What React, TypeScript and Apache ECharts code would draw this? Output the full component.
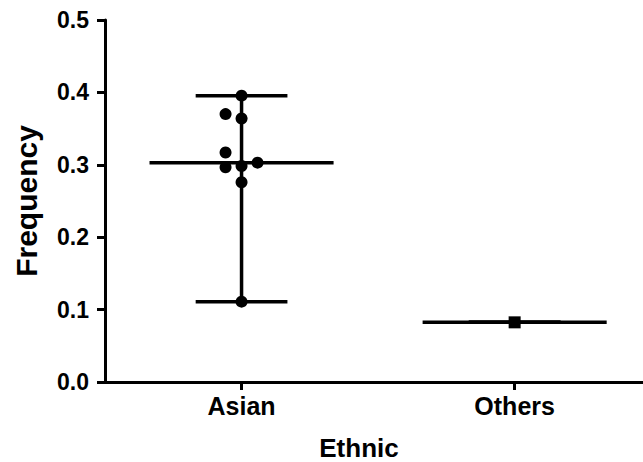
import React, { useEffect, useRef } from "react";
import * as echarts from "echarts";

const categories = ["Asian", "Others"];
const categoryPositions = [1, 2];
const asianValues = [0.3955, 0.37, 0.364, 0.317, 0.2966, 0.2983, 0.303, 0.2758, 0.111];
const asianJitter = [0, -16, 0, -16, -16, 0, 16, 0, 0];
const othersValues = [0.0824];
const yTicks = [0, 0.1, 0.2, 0.3, 0.4, 0.5];

const FONT = "'Liberation Sans', Arial, Helvetica, sans-serif";

function median(a: number[]) {
  const s = [...a].sort((x, y) => x - y);
  const m = Math.floor(s.length / 2);
  return s.length % 2 ? s[m] : (s[m - 1] + s[m]) / 2;
}

export default function App() {
  const ref = useRef<HTMLDivElement>(null);
  useEffect(() => {
    document.body.style.margin = "0";
    document.body.style.overflow = "hidden";
    if (!ref.current) return;
    const chart = echarts.init(ref.current, undefined, { renderer: "svg" });
    const groups = [asianValues, othersValues];
    const stats = groups.map((g, i) => [categoryPositions[i], median(g), Math.min(...g), Math.max(...g)]);
    const black = "#000";
    chart.setOption({
      animation: false,
      backgroundColor: "#fff",
      grid: { left: 105, top: 20, bottom: 80, right: 0, outerBoundsMode: "none", containLabel: false },
      xAxis: {
        type: "value",
        min: 0.5,
        max: 2.47,
        name: "Ethnic",
        nameLocation: "middle",
        nameGap: 55,
        nameTextStyle: {
          fontFamily: FONT,
          fontWeight: "bold",
          fontSize: 26,
          lineHeight: 22,
          color: black,
          padding: [0, 30, 0, 0],
        },
        axisLine: { show: true, onZero: false, lineStyle: { color: black, width: 3 } },
        axisTick: {
          show: true,
          customValues: categoryPositions,
          length: 8,
          lineStyle: { color: black, width: 3 },
        },
        axisLabel: {
          customValues: categoryPositions,
          fontFamily: FONT,
          fontWeight: "bold",
          fontSize: 25,
          color: black,
          margin: 11,
          formatter: (v: number) => categories[categoryPositions.indexOf(Math.round(v))] ?? "",
        },
        splitLine: { show: false },
      },
      yAxis: {
        type: "value",
        min: yTicks[0],
        max: yTicks[yTicks.length - 1],
        interval: 0.1,
        name: "Frequency",
        nameLocation: "middle",
        nameGap: 64,
        nameTextStyle: { fontFamily: FONT, fontWeight: "bold", fontSize: 30, color: black },
        axisLine: { show: true, lineStyle: { color: black, width: 3 } },
        axisTick: { show: true, length: 8, lineStyle: { color: black, width: 3 } },
        axisLabel: {
          fontFamily: FONT,
          fontWeight: "bold",
          fontSize: 23,
          color: black,
          margin: 16,
          formatter: (v: number) => v.toFixed(1),
        },
        splitLine: { show: false },
      },
      series: [
        {
          type: "custom",
          data: stats,
          z: 2,
          renderItem: (params: any, api: any) => {
            const xv = api.value(0);
            const med = api.coord([xv, api.value(1)]);
            const lo = api.coord([xv, api.value(2)]);
            const hi = api.coord([xv, api.value(3)]);
            const unit = api.size([1, 0])[0];
            const mw = unit * 0.337;
            const cw = unit * 0.168;
            const st = { stroke: black, lineWidth: 3.5 };
            return {
              type: "group",
              children: [
                { type: "line", shape: { x1: lo[0], y1: lo[1], x2: hi[0], y2: hi[1] }, style: st },
                { type: "line", shape: { x1: med[0] - mw, y1: med[1], x2: med[0] + mw, y2: med[1] }, style: st },
                { type: "line", shape: { x1: hi[0] - cw, y1: hi[1], x2: hi[0] + cw, y2: hi[1] }, style: st },
                { type: "line", shape: { x1: lo[0] - cw, y1: lo[1], x2: lo[0] + cw, y2: lo[1] }, style: st },
              ],
            };
          },
        },
        {
          type: "scatter",
          z: 3,
          symbol: "circle",
          symbolSize: 12,
          itemStyle: { color: black, opacity: 1 },
          data: asianValues.map((v, i) => ({ value: [categoryPositions[0], v], symbolOffset: [asianJitter[i], 0] })),
        },
        {
          type: "scatter",
          z: 3,
          symbol: "rect",
          symbolSize: 12,
          itemStyle: { color: black, opacity: 1 },
          data: othersValues.map((v) => [categoryPositions[1], v]),
        },
      ],
    });
    return () => chart.dispose();
  }, []);
  return <div ref={ref} style={{ width: 643, height: 462 }} />;
}
